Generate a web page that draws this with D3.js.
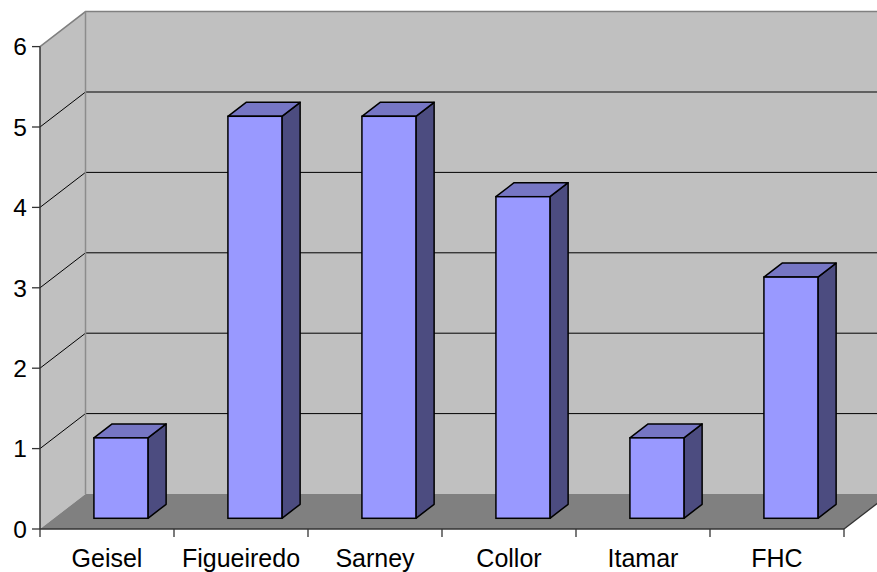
<!DOCTYPE html>
<html><head><meta charset="utf-8">
<script src="https://cdn.jsdelivr.net/npm/d3@7"></script>
<style>body{margin:0;background:#fff}svg{display:block}text{font-family:"Liberation Sans",Arial,sans-serif;font-size:24px;fill:#000}</style>
</head><body><svg id="c" width="877" height="572"></svg>
<script>
const categories = ["Geisel","Figueiredo","Sarney","Collor","Itamar","FHC"];
const values = [1,5,5,4,1,3];
const yTicks = [0,1,2,3,4,5,6];

const svg = d3.select("#c");
const x0 = 40, x1 = 844, yBase = 529, yTop = 46.6;
const DX = 45.5, DY = -35;           // depth of the 3D box
const f0 = 0.306, f1 = 0.706;        // bar depth fractions
const x = d3.scaleBand().domain(categories).range([x0, x1]).paddingInner(0.597).paddingOuter(0.2985);
const y = d3.scaleLinear().domain([0, 6]).range([yBase, yTop]);
const W = 877;

// left wall
svg.append("polygon").attr("points", [[x0,y(0)],[x0,y(6)],[x0+DX,y(6)+DY],[x0+DX,y(0)+DY]].join(" "))
  .attr("fill","#c0c0c0").attr("stroke","none");
// back wall
svg.append("polygon").attr("points", [[x0+DX,y(0)+DY],[x0+DX,y(6)+DY],[x1+DX,y(6)+DY],[x1+DX,y(0)+DY]].join(" "))
  .attr("fill","#c0c0c0").attr("stroke","none");
// floor
svg.append("polygon").attr("points", [[x0,y(0)],[x0+DX,y(0)+DY],[x1+DX,y(0)+DY],[x1,y(0)]].join(" "))
  .attr("fill","#808080").attr("stroke","none");
// floor right edge
svg.append("line").attr("x1",x1).attr("y1",y(0)).attr("x2",x1+DX).attr("y2",y(0)+DY).attr("stroke","#333").attr("stroke-width",1.3);

// gridlines
const gv = yTicks.filter(v => v > 0 && v < 6);
svg.selectAll(".gl").data(gv).enter().append("line")
  .attr("x1",x0).attr("y1",d=>y(d)).attr("x2",x0+DX).attr("y2",d=>y(d)+DY).attr("stroke","#000").attr("stroke-width",1);
svg.selectAll(".gb").data(gv).enter().append("line")
  .attr("x1",x0+DX).attr("y1",d=>y(d)+DY).attr("x2",W).attr("y2",d=>y(d)+DY).attr("stroke","#000").attr("stroke-width",1);
// top edges and corner
svg.append("polyline").attr("points", [[x0,y(6)],[x0+DX,y(6)+DY],[W,y(6)+DY]].join(" "))
  .attr("fill","none").attr("stroke","#808080").attr("stroke-width",1.5);
svg.append("line").attr("x1",x0+DX).attr("y1",y(6)+DY).attr("x2",x0+DX).attr("y2",y(0)+DY)
  .attr("stroke","#8c8c8c").attr("stroke-width",1.5);

// bars
const bw = x.bandwidth();
const bars = svg.selectAll(".bar").data(categories.map((c,i)=>({c, v: values[i]}))).enter().append("g");
bars.each(function(d){
  const g = d3.select(this);
  const fx = x(d.c) + f0*DX, fy0 = y(0) + f0*DY, fyt = y(d.v) + f0*DY;
  const ddx = (f1-f0)*DX, ddy = (f1-f0)*DY;
  g.append("polygon").attr("points",[[fx+bw,fy0],[fx+bw,fyt],[fx+bw+ddx,fyt+ddy],[fx+bw+ddx,fy0+ddy]].join(" "))
    .attr("fill","#4c4c80").attr("stroke","#000").attr("stroke-width",1.5).attr("stroke-linejoin","round");
  g.append("polygon").attr("points",[[fx,fyt],[fx+ddx,fyt+ddy],[fx+bw+ddx,fyt+ddy],[fx+bw,fyt]].join(" "))
    .attr("fill","#7676c4").attr("stroke","#000").attr("stroke-width",1.5).attr("stroke-linejoin","round");
  g.append("rect").attr("x",fx).attr("y",fyt).attr("width",bw).attr("height",fy0-fyt)
    .attr("fill","#9999ff").attr("stroke","#000").attr("stroke-width",1.5);
});

// axes
svg.append("line").attr("x1",x0).attr("y1",y(6)).attr("x2",x0).attr("y2",y(0)).attr("stroke","#333").attr("stroke-width",1.5);
svg.append("line").attr("x1",x0).attr("y1",y(0)).attr("x2",x1).attr("y2",y(0)).attr("stroke","#333").attr("stroke-width",1.5);
svg.selectAll(".yt").data(yTicks).enter().append("line")
  .attr("x1",x0-8).attr("x2",x0).attr("y1",d=>y(d)).attr("y2",d=>y(d)).attr("stroke","#333").attr("stroke-width",1.3);
svg.selectAll(".yl").data(yTicks).enter().append("text")
  .attr("x",27).attr("y",d=>y(d)+8.8).attr("text-anchor","end").style("font-size","24.5px").text(d=>d);
const tickXs = categories.map(c => x(c) - x.step()*x.paddingInner()/2).concat([x1]);
svg.selectAll(".xt").data(tickXs).enter().append("line")
  .attr("x1",d=>d).attr("x2",d=>d).attr("y1",y(0)).attr("y2",y(0)+8).attr("stroke","#333").attr("stroke-width",1.3);
svg.selectAll(".xl").data(categories).enter().append("text")
  .attr("x",d=>x(d)+bw/2).attr("y",566.5).attr("text-anchor","middle").style("font-size","25px").text(d=>d);
</script></body></html>
